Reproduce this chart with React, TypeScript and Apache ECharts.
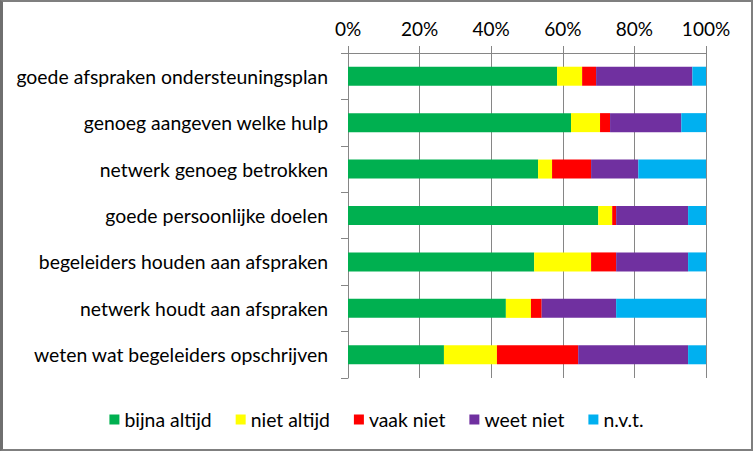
import React, { useEffect, useRef } from "react";
import * as echarts from "echarts";

const categories = [
  "goede afspraken ondersteuningsplan",
  "genoeg aangeven welke hulp",
  "netwerk genoeg betrokken",
  "goede persoonlijke doelen",
  "begeleiders houden aan afspraken",
  "netwerk houdt aan afspraken",
  "weten wat begeleiders opschrijven",
];

const seriesNames = ["bijna altijd", "niet altijd", "vaak niet", "weet niet", "n.v.t."];
const seriesColors = ["#00B050", "#FFFF00", "#FF0000", "#7030A0", "#00B0F0"];

const bijnaAltijd = [58.4, 62.3, 53.1, 69.9, 52.0, 44.1, 26.8];
const nietAltijd = [7.0, 8.1, 3.9, 3.9, 15.9, 7.0, 14.8];
const vaakNiet = [3.9, 2.8, 10.9, 1.1, 7.0, 3.0, 22.7];
const weetNiet = [26.9, 19.9, 13.2, 20.1, 20.1, 20.8, 30.7];
const nvt = [3.8, 6.9, 18.9, 5.0, 5.0, 25.1, 5.0];

const seriesData = [bijnaAltijd, nietAltijd, vaakNiet, weetNiet, nvt];
const xTicks = [0, 20, 40, 60, 80, 100];

const FONT = "Lato";
const FS = 19.4;

export default function App() {
  const ref = useRef<HTMLDivElement>(null);
  useEffect(() => {
    if (!ref.current) return;
    const chart = echarts.init(ref.current, null, { renderer: "svg" });
    chart.setOption({
      animation: false,
      backgroundColor: "#ffffff",
      textStyle: { fontFamily: FONT, color: "#000" },
      grid: { left: 348, right: 47, top: 53, bottom: 73, containLabel: false },
      legend: {
        bottom: 17,
        left: "center",
        itemWidth: 10,
        itemHeight: 10,
        itemGap: 24,
        icon: "rect",
        textStyle: { fontFamily: FONT, fontSize: FS, color: "#000" },
        data: seriesNames,
      },
      xAxis: {
        type: "value",
        position: "top",
        min: xTicks[0],
        max: xTicks[xTicks.length - 1],
        interval: 20,
        axisLine: { show: true, lineStyle: { color: "#868686", width: 1 } },
        axisTick: { show: true, length: 7, lineStyle: { color: "#868686" } },
        splitLine: { show: true, lineStyle: { color: "#868686", width: 1 } },
        axisLabel: {
          formatter: "{value}%",
          fontFamily: FONT,
          fontSize: 19,
          color: "#000",
          margin: 15,
        },
      },
      yAxis: {
        type: "category",
        inverse: true,
        data: categories,
        axisLine: { show: true, lineStyle: { color: "#868686", width: 1 } },
        axisTick: { show: true, length: 7, alignWithLabel: false, lineStyle: { color: "#868686" } },
        axisLabel: { fontFamily: FONT, fontSize: FS, color: "#000", margin: 20 },
      },
      series: seriesNames.map((name, i) => ({
        name,
        type: "bar",
        stack: "total",
        barWidth: 19,
        itemStyle: { color: seriesColors[i] },
        data: seriesData[i],
      })),
    });
    return () => chart.dispose();
  }, []);
  return (
    <div style={{ position: "fixed", left: 0, top: 0, width: 753, height: 451, background: "#fff" }}>
      <div ref={ref} style={{ position: "absolute", left: 0, top: 0, width: 753, height: 451 }} />
      <div
        style={{
          position: "absolute",
          left: 0,
          top: 0,
          width: 753,
          height: 451,
          boxSizing: "border-box",
          border: "2px solid #7f7f7f",
          borderLeft: "3px solid #6f6f6f",
          pointerEvents: "none",
        }}
      />
    </div>
  );
}
